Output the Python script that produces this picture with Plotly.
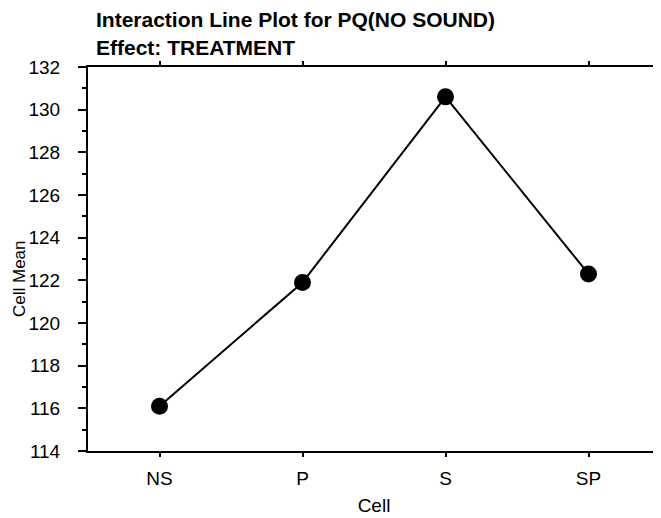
import plotly.graph_objects as go

# cell means
cells = ["NS", "P", "S", "SP"]
cell_means = [116.1, 121.9, 130.6, 122.3]

y_tick_values = [114, 116, 118, 120, 122, 124, 126, 128, 130, 132]

FONT = "Liberation Sans, Arial, sans-serif"
WIDTH = 661
HEIGHT = 518
# the page body adds 8px on top/left, margins are set with that in mind
MARGIN = dict(l=80, r=9, t=59, b=75)

plot_w = WIDTH - MARGIN["l"] - MARGIN["r"]
plot_h = HEIGHT - MARGIN["t"] - MARGIN["b"]

fig = go.Figure()

fig.add_trace(go.Scatter(
    x=list(range(len(cells))), y=cell_means,
    mode="lines+markers",
    line=dict(color="black", width=2),
    marker=dict(symbol="circle", size=17, color="black"),
    showlegend=False,
    hoverinfo="x+y",
))

# two-line bold heading
for text, y_px in [("Interaction Line Plot for PQ(NO SOUND)", 11), ("Effect: TREATMENT", 39.5)]:
    fig.add_annotation(
        text=f"<b>{text}</b>",
        xref="paper", yref="paper",
        x=(86 - MARGIN["l"]) / plot_w,
        y=1 + (MARGIN["t"] - y_px) / plot_h,
        xanchor="left", yanchor="middle",
        showarrow=False,
        font=dict(family=FONT, size=21, color="black"),
    )

# y axis title sits a little below the plot centre in the original
fig.add_annotation(
    text="Cell Mean",
    xref="paper", yref="paper",
    x=-(MARGIN["l"] - 11) / plot_w, y=1 - (271 - MARGIN["t"]) / plot_h,
    xanchor="center", yanchor="middle",
    textangle=-90, showarrow=False,
    font=dict(family=FONT, size=17, color="black"),
)

# faint piece of the right frame that survives in the scan
fig.add_shape(
    type="line", xref="paper", yref="y",
    x0=1, x1=1, y0=114, y1=120.4,
    line=dict(color="rgb(150,150,150)", width=1, dash="dot"),
)

fig.update_layout(
    width=WIDTH,
    height=HEIGHT,
    margin=MARGIN,
    plot_bgcolor="white",
    paper_bgcolor="white",
    font=dict(family=FONT, size=19, color="black"),
    xaxis=dict(
        range=[-0.5, 3.5],
        tickvals=list(range(len(cells))),
        ticktext=cells,
        ticks="outside", ticklen=4, tickwidth=1.5, tickcolor="black",
        ticklabelstandoff=5,
        showline=True, linecolor="black", linewidth=2, mirror="ticks",
        showgrid=False, zeroline=False,
        title=dict(text="Cell", font=dict(size=19), standoff=11),
    ),
    yaxis=dict(
        range=[114, 132],
        tickvals=y_tick_values,
        ticks="outside", ticklen=8, tickwidth=1.5, tickcolor="black",
        ticklabelstandoff=14,
        minor=dict(dtick=1, ticks="outside", ticklen=4, tickcolor="black", tickwidth=1.5),
        showline=True, linecolor="black", linewidth=2,
        showgrid=False, zeroline=False,
    ),
)

fig.write_html("out.html")
